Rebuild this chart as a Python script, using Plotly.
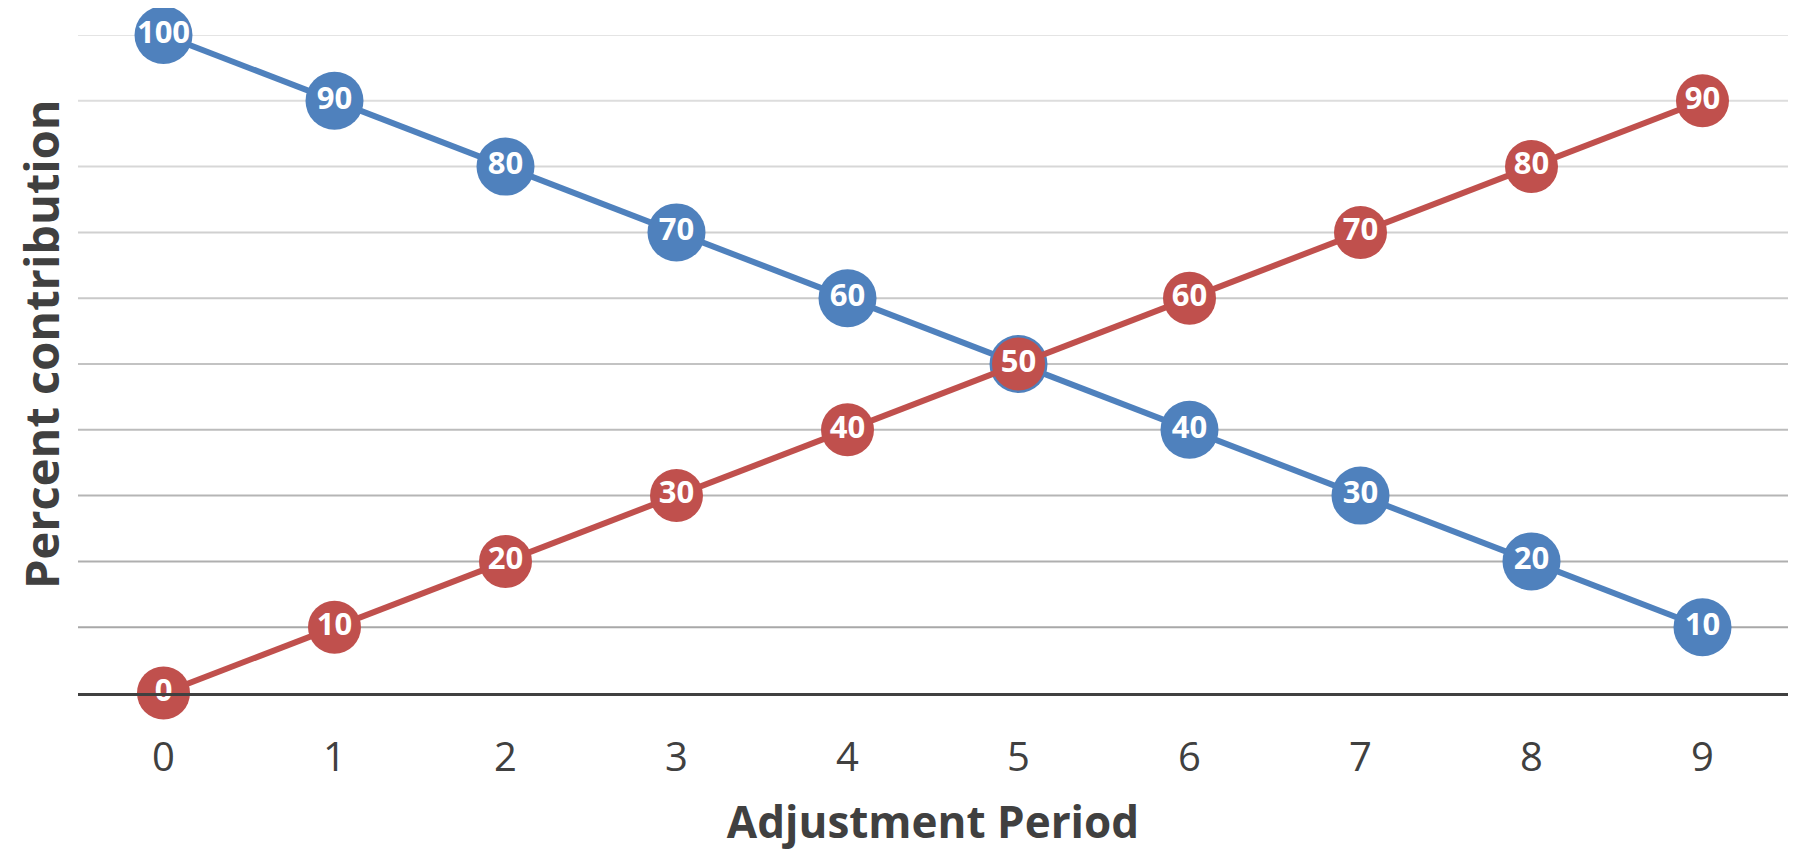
import plotly.graph_objects as go

periods = [0, 1, 2, 3, 4, 5, 6, 7, 8, 9]
blue_values = [100, 90, 80, 70, 60, 50, 40, 30, 20, 10]
red_values = [0, 10, 20, 30, 40, 50, 60, 70, 80, 90]
y_grid = [10, 20, 30, 40, 50, 60, 70, 80, 90, 100]
x_tick_labels = ["0", "1", "2", "3", "4", "5", "6", "7", "8", "9"]

BLUE = "#4F81BD"
RED = "#C0504D"
FONT = "Open Sans"

fig = go.Figure()

fig.add_trace(go.Scatter(
    x=periods, y=blue_values, mode="lines+markers+text",
    line=dict(color=BLUE, width=6),
    marker=dict(color=BLUE, size=58, line=dict(width=0)),
    text=[str(v) for v in blue_values], textposition="middle center",
    textfont=dict(family=FONT, size=31, color="white", weight="bold"),
    cliponaxis=False, showlegend=False, hoverinfo="x+y",
))
fig.add_trace(go.Scatter(
    x=periods, y=red_values, mode="lines+markers+text",
    line=dict(color=RED, width=6),
    marker=dict(color=RED, size=53, line=dict(width=0)),
    text=[str(v) for v in red_values], textposition="middle center",
    textfont=dict(family=FONT, size=31, color="white", weight="bold"),
    cliponaxis=False, showlegend=False, hoverinfo="x+y",
))

# gridlines with a light-to-dark gradient (top light, bottom darker)
def grid_color(v):
    t = (v - 10) / 90.0
    dark, light = 168, 228
    c = int(round(dark + (light - dark) * t))
    return f"rgb({c},{c},{c})"

shapes = []
for v in y_grid:
    shapes.append(dict(type="line", xref="paper", yref="y", x0=0, x1=1, y0=v, y1=v,
                       line=dict(color=grid_color(v), width=2), layer="below"))

fig.update_layout(
    width=1800, height=843,
    margin=dict(l=70, r=20, t=27, b=158),
    paper_bgcolor="white", plot_bgcolor="white",
    shapes=shapes,
    xaxis=dict(
        range=[-0.5, 9.5], tickvals=periods, ticktext=x_tick_labels,
        showgrid=False, zeroline=False,
        showline=True, linecolor="#404040", linewidth=3,
        ticks="", ticklabelstandoff=27, automargin=False,
        tickfont=dict(family=FONT, size=40, color="#404040"),
        title=dict(text="Adjustment Period", standoff=39,
                   font=dict(family=FONT, size=44, color="#404040", weight="bold")),
        fixedrange=True,
    ),
    yaxis=dict(
        range=[0, 100], showgrid=False, zeroline=False, showticklabels=False,
        showline=False, ticks="", automargin=False, fixedrange=True,
    ),
    annotations=[dict(
        text="Percent contribution", textangle=-90,
        xref="paper", yref="paper", x=0, y=0.5, xanchor="center", yanchor="middle",
        xshift=-37, yshift=20, showarrow=False,
        font=dict(family=FONT, size=47, color="#404040", weight="bold"),
    )],
)

fig.write_html("out.html")
